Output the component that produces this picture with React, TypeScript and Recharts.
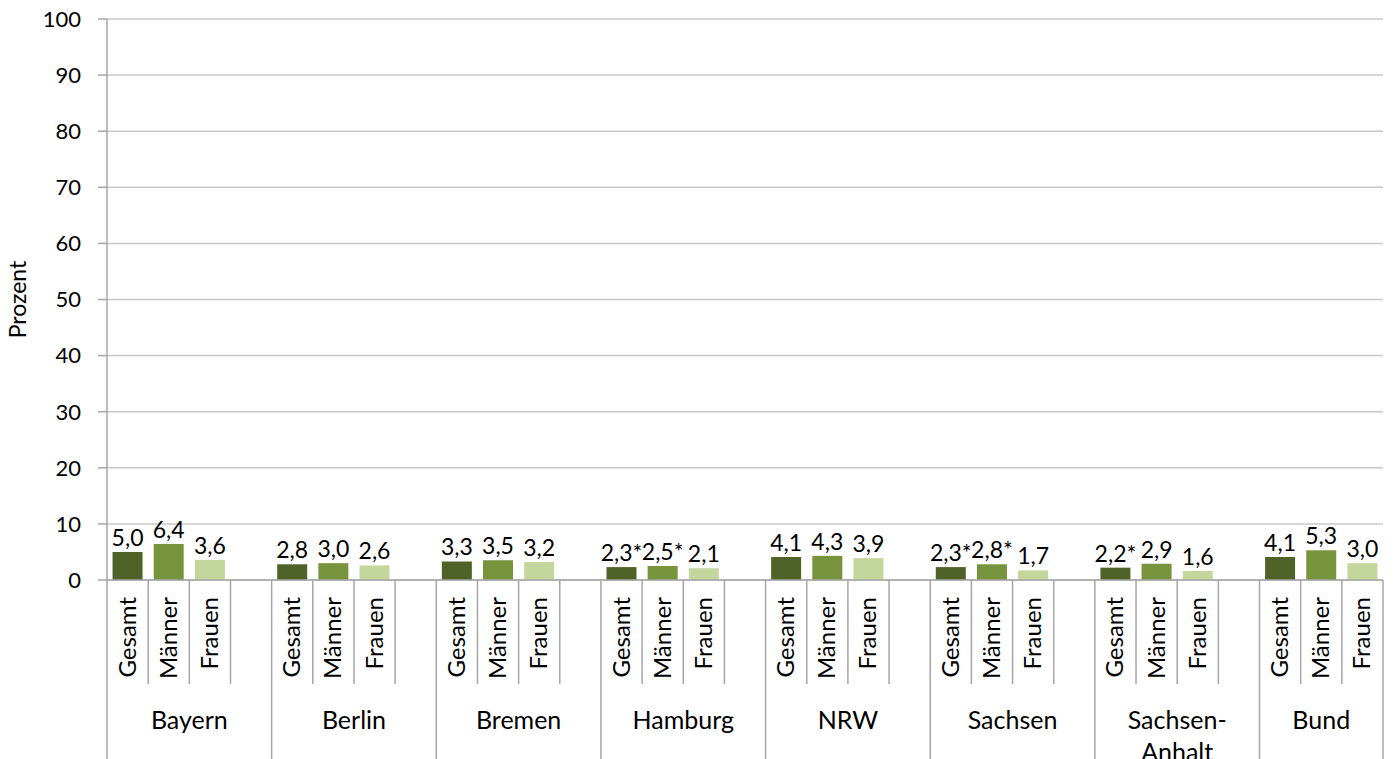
import { BarChart, Bar, XAxis, YAxis, CartesianGrid, Cell, LabelList } from 'recharts';

const groups = ['Bayern', 'Berlin', 'Bremen', 'Hamburg', 'NRW', 'Sachsen', 'Sachsen-|Anhalt', 'Bund'];
const subLabels = ['Gesamt', 'Männer', 'Frauen'];
const gesamt = [5.0, 2.8, 3.3, 2.3, 4.1, 2.3, 2.2, 4.1];
const maenner = [6.4, 3.0, 3.5, 2.5, 4.3, 2.8, 2.9, 5.3];
const frauen = [3.6, 2.6, 3.2, 2.1, 3.9, 1.7, 1.6, 3.0];
const gesamtNote = ['', '', '', '*', '', '*', '*', ''];
const maennerNote = ['', '', '', '*', '', '*', '', ''];
const frauenNote = ['', '', '', '', '', '', '', ''];
const yTicks = [0, 10, 20, 30, 40, 50, 60, 70, 80, 90, 100];

const colors = ['#4f6228', '#77933c', '#c3d69b'];
const FONT = 'Lato, "Open Sans", sans-serif';

const W = 1397;
const H = 759;
const LEFT = 107;
const RIGHT = 1383;
const TOP = 19;
const BOTTOM = 580;

type Row = {
  key: string;
  group: number;
  sub: number;
  value: number | null;
  label: string;
  first: boolean;
  groupSlots: number;
};

const series = [gesamt, maenner, frauen];
const notes = [gesamtNote, maennerNote, frauenNote];

const data: Row[] = [];
groups.forEach((g, gi) => {
  const last = gi === groups.length - 1;
  subLabels.forEach((s, si) => {
    const v = series[si][gi];
    data.push({
      key: `${g}-${s}`,
      group: gi,
      sub: si,
      value: v,
      label: v.toFixed(1).replace('.', ',') + notes[si][gi],
      first: si === 0,
      groupSlots: last ? 3 : 4,
    });
  });
  if (!last) {
    data.push({ key: `${g}-blank`, group: gi, sub: -1, value: null, label: '', first: false, groupSlots: 4 });
  }
});

const slotW = (RIGHT - LEFT) / data.length;
const lineColor = '#a6a6a6';

function CategoryTick(props: any) {
  const { x, index } = props;
  const row = data[index];
  if (!row) return null;
  const left = x - slotW / 2;
  const shortEnd = 684;
  const parts: any[] = [];
  parts.push(
    <line key="l" x1={left} x2={left} y1={BOTTOM} y2={row.first ? H : shortEnd} stroke={lineColor} strokeWidth={1.5} />
  );
  if (index === data.length - 1) {
    parts.push(
      <line key="r" x1={x + slotW / 2} x2={x + slotW / 2} y1={BOTTOM} y2={H} stroke={lineColor} strokeWidth={1.5} />
    );
  }
  if (row.sub >= 0) {
    const tx = x + 8;
    const ty = 597;
    parts.push(
      <text key="t" x={tx} y={ty} transform={`rotate(-90, ${tx}, ${ty})`} textAnchor="end" fontSize={24} fontFamily={FONT} fill="#000">
        {subLabels[row.sub]}
      </text>
    );
  }
  if (row.sub === 1) {
    const gx = row.groupSlots === 4 ? x + slotW / 2 : x;
    const lines = groups[row.group].split('|');
    parts.push(
      <text key="g" x={gx} y={729} textAnchor="middle" fontSize={25} fontFamily={FONT} fill="#000">
        {lines.map((ln, i) => (
          <tspan key={i} x={gx} dy={i === 0 ? 0 : 32}>{ln}</tspan>
        ))}
      </text>
    );
  }
  return <g>{parts}</g>;
}

export default function App() {
  return (
    <div style={{ position: 'absolute', left: 0, top: 0, width: W, height: H, background: '#fff' }}>
      <BarChart
        width={W}
        height={H}
        data={data}
        margin={{ top: TOP, right: W - RIGHT, left: 0, bottom: 0 }}
        barCategoryGap="13.5%"
      >
        <CartesianGrid vertical={false} stroke="#c8c8c8" strokeWidth={1.5} />
        <XAxis
          dataKey="key"
          height={H - BOTTOM}
          interval={0}
          tickLine={false}
          axisLine={{ stroke: lineColor, strokeWidth: 1.5 }}
          tick={<CategoryTick />}
        />
        <YAxis
          width={LEFT}
          domain={[0, 100]}
          ticks={yTicks}
          interval={0}
          tickSize={9}
          tickMargin={17}
          axisLine={{ stroke: lineColor, strokeWidth: 1.5 }}
          tickLine={{ stroke: lineColor, strokeWidth: 1.5 }}
          tick={{ fontSize: 22, fontFamily: FONT, fill: '#000' }}
          label={{
            content: (p: any) => {
              const vb = p.viewBox;
              const cx = 26;
              const cy = vb.y + vb.height / 2;
              return (
                <text x={cx} y={cy} transform={`rotate(-90, ${cx}, ${cy})`} textAnchor="middle" fontSize={23} fontFamily={FONT} fill="#000">
                  Prozent
                </text>
              );
            },
          }}
        />
        <Bar dataKey="value" isAnimationActive={false}>
          {data.map((r) => (
            <Cell key={r.key} fill={r.sub >= 0 ? colors[r.sub] : 'transparent'} />
          ))}
          <LabelList dataKey="label" position="top" offset={6} fontSize={23} fontFamily={FONT} fill="#000" />
        </Bar>
      </BarChart>
    </div>
  );
}
